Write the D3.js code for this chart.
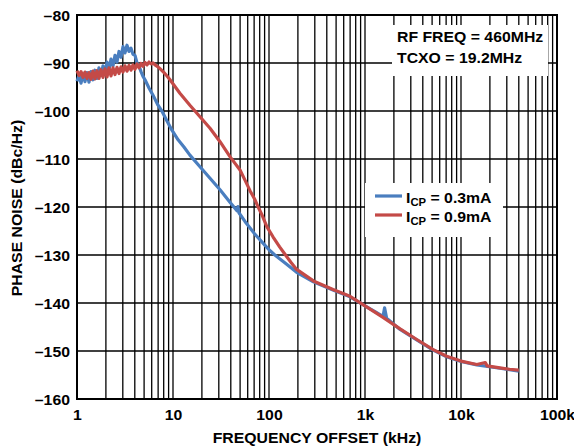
<!DOCTYPE html>
<html><head><meta charset="utf-8">
<script src="https://cdn.jsdelivr.net/npm/d3@7"></script>
<style>
html,body{margin:0;padding:0;background:#fff;}
svg{display:block;font-family:"Liberation Sans",Arial,Helvetica,sans-serif;font-weight:bold;}
</style></head>
<body>
<svg id="chart" width="574" height="447"></svg>
<script>
// ---- data (frequency offset in kHz, phase noise in dBc/Hz) ----
const blueFreq = [1.00,1.049,1.101,1.155,1.211,1.271,1.333,1.399,1.468,1.540,1.616,1.695,1.778,1.866,1.957,2.054,2.154,2.260,2.371,2.488,2.610,2.738,2.873,3.014,3.162,3.318,3.481,3.652,3.831,4.020,4.217,4.424,4.642,4.870,5.11,5.623,6.19,6.98,7.70,8.66,9.75,11.3,13.0,15.0,19.1,24.3,30.9,39.2,46.4,47.5,48.6,56.2,71.5,90.9,100,115,146,194,290,464,698,1000,1270,1540,1600,1680,2320,3460,5130,7090,10000,14600,25400,32000,40000];
const blueDb = [-93.8,-92.6,-94.2,-92.3,-93.9,-92.0,-94.0,-91.8,-93.5,-91.5,-93.2,-91.0,-92.6,-90.6,-92.0,-89.8,-91.4,-89.2,-90.6,-88.4,-89.8,-87.6,-88.8,-86.6,-87.9,-86.3,-87.6,-86.9,-88.2,-88.4,-90.0,-90.6,-91.8,-92.8,-93.5,-95.2,-96.7,-98.8,-100.1,-102.1,-104.0,-106.0,-107.5,-109.2,-111.6,-114.0,-116.4,-119.0,-120.8,-119.9,-121.2,-123.0,-125.7,-128.0,-128.9,-130.0,-131.6,-133.6,-135.6,-137.3,-138.7,-140.6,-141.8,-142.8,-141.0,-143.2,-145.5,-147.7,-149.8,-151.2,-152.2,-152.9,-153.6,-153.9,-154.2];
const redFreq = [1.00,1.049,1.101,1.155,1.211,1.271,1.333,1.399,1.468,1.540,1.616,1.695,1.778,1.866,1.957,2.054,2.154,2.260,2.371,2.488,2.610,2.738,2.873,3.014,3.162,3.318,3.481,3.652,3.831,4.020,4.217,4.424,4.642,4.870,5.109,5.361,5.623,5.899,6.190,6.494,6.979,7.499,8.058,8.660,9.31,11.8,15.0,19.1,24.3,30.9,39.2,49.9,56.2,63.4,71.5,76.7,84.3,94.9,110,129,146,169,194,290,464,698,1000,1540,2320,3460,5130,7090,10000,14600,17900,18700,25400,32000,40000];
const redDb = [-91.6,-92.6,-91.8,-93.0,-91.9,-93.2,-92.0,-93.4,-91.7,-93.3,-91.6,-93.2,-91.4,-93.0,-91.2,-92.9,-91.0,-92.7,-91.0,-92.4,-90.9,-92.2,-90.8,-91.9,-90.6,-91.7,-90.5,-91.5,-90.4,-91.3,-90.2,-91.0,-90.1,-90.7,-89.9,-90.4,-89.8,-90.2,-90.0,-90.4,-90.8,-91.4,-92.0,-92.7,-93.5,-96.3,-98.8,-101.2,-103.6,-106.4,-109.5,-112.3,-114.4,-116.6,-118.5,-119.9,-121.6,-124.1,-126.2,-128.3,-129.8,-131.5,-133.0,-135.4,-137.2,-138.6,-140.6,-143.0,-145.4,-147.6,-149.7,-151.1,-152.1,-152.8,-152.4,-153.1,-153.5,-153.8,-154.0];
const xTickValues = [1,10,100,1000,10000,100000];
const xTickLabels = ["1","10","100","1k","10k","100k"];
const yTickValues = [-80,-90,-100,-110,-120,-130,-140,-150,-160];
const seriesNames = ["0.3mA","0.9mA"];
const seriesColors = ["#4a7ebf","#c44a47"];
const notes = ["RF FREQ = 460MHz","TCXO = 19.2MHz"];

// ---- layout ----
const svg = d3.select("#chart");
const L = 77, R = 557, T = 15, B = 399;
const x = d3.scaleLog().domain([1,100000]).range([L,R]);
const y = d3.scaleLinear().domain([-160,-80]).range([B,T]);
const fs = 14, sx = 1.13;

const minorX = [];
for (let d = 1; d < 100000; d *= 10) for (let k = 1; k < 10; k++) minorX.push(d*k);
minorX.push(100000);

const grid = svg.append("g");
grid.selectAll("line.v").data(minorX).join("line")
  .attr("x1", d => x(d)).attr("x2", d => x(d))
  .attr("y1", T).attr("y2", B)
  .attr("stroke", "#000").attr("stroke-width", 1.3);
grid.selectAll("line.h").data(yTickValues).join("line")
  .attr("x1", L).attr("x2", R)
  .attr("y1", d => y(d)).attr("y2", d => y(d))
  .attr("stroke", "#000").attr("stroke-width", 1.3);

svg.append("rect").attr("x", 392).attr("y", 25).attr("width", 156).attr("height", 51).attr("fill", "#fff");
svg.append("rect").attr("x", 365).attr("y", 183).attr("width", 138).attr("height", 54).attr("fill", "#fff");

svg.append("rect").attr("x", L).attr("y", T).attr("width", R-L).attr("height", B-T)
  .attr("fill", "none").attr("stroke", "#000").attr("stroke-width", 2);

const line = d3.line().x(d => x(d[0])).y(d => y(d[1]));
const blue = blueFreq.map((f,i) => [f, blueDb[i]]);
const red = redFreq.map((f,i) => [f, redDb[i]]);
svg.append("path").datum(blue).attr("d", line).attr("fill","none")
  .attr("stroke", seriesColors[0]).attr("stroke-width", 3.2).attr("stroke-linejoin","round");
svg.append("path").datum(red).attr("d", line).attr("fill","none")
  .attr("stroke", seriesColors[1]).attr("stroke-width", 3.2).attr("stroke-linejoin","round");

const xAxis = d3.axisBottom(x).tickValues(xTickValues).tickFormat((d,i) => xTickLabels[i]).tickSize(0).tickPadding(0);
const gx = svg.append("g").attr("transform", `translate(0,${B})`).call(xAxis);
gx.select(".domain").remove();
gx.selectAll("text").attr("dy", null).attr("y", 0).attr("transform", `translate(0,21) scale(${sx},1)`)
  .attr("font-size", fs).attr("font-weight","bold")
  .attr("font-family", '"Liberation Sans",Arial,sans-serif').attr("fill","#000");

const yAxis = d3.axisLeft(y).tickValues(yTickValues).tickFormat(d => "\u2013" + Math.abs(d)).tickSize(0).tickPadding(0);
const gy = svg.append("g").attr("transform", `translate(70,0)`).call(yAxis);
gy.select(".domain").remove();
gy.selectAll("text").attr("x", 0).attr("dy", "0.36em").attr("transform", `scale(${sx},1)`)
  .attr("font-size", fs).attr("font-weight","bold")
  .attr("font-family", '"Liberation Sans",Arial,sans-serif').attr("fill","#000");

svg.append("text").attr("transform", `translate(317,443) scale(${sx},1)`).attr("text-anchor","middle")
  .attr("font-size", fs).text("FREQUENCY OFFSET (kHz)");
svg.append("text").attr("transform", `translate(22,208) rotate(-90) scale(${sx},1)`).attr("text-anchor","middle")
  .attr("font-size", fs).text("PHASE NOISE (dBc/Hz)");

svg.selectAll("text.note").data(notes).join("text").attr("class","note")
  .attr("transform", (d,i) => `translate(397,${42 + i*21}) scale(${sx},1)`)
  .attr("font-size", fs).text(d => d);

const lg = svg.append("g");
seriesNames.forEach((n,i) => {
  const yy = 196 + i*19;
  lg.append("line").attr("x1", 375).attr("x2", 402).attr("y1", yy).attr("y2", yy)
    .attr("stroke", seriesColors[i]).attr("stroke-width", 3.2);
  const t = lg.append("text").attr("transform", `translate(406,${yy + 7}) scale(${sx},1)`).attr("font-size", fs);
  t.append("tspan").text("I");
  t.append("tspan").attr("font-size", 10).attr("dy", 3).text("CP");
  t.append("tspan").attr("dy", -3).text(" = " + n);
});
</script>
</body></html>
